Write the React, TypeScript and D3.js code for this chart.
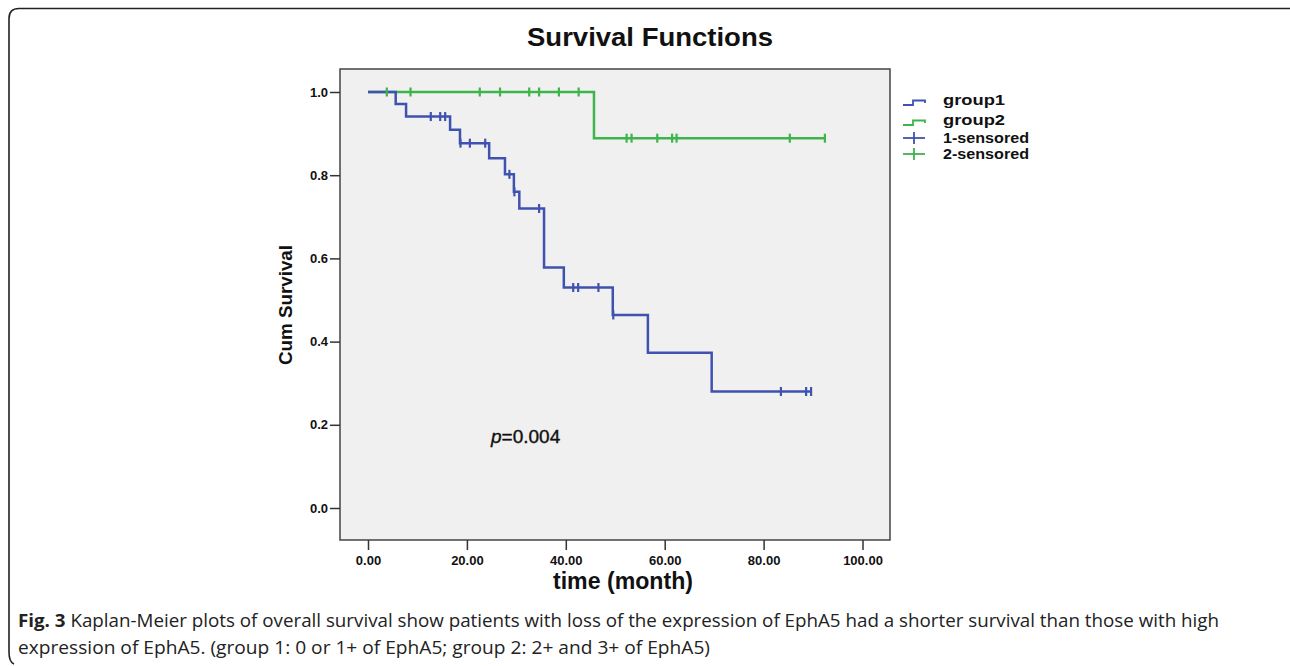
import React, { useEffect, useRef } from 'react';
import * as d3 from 'd3';

// group1: drop times (months) and survival after each drop
const g1Times = [5.6, 7.7, 16.6, 18.6, 24.5, 27.7, 29.5, 30.6, 35.6, 39.6, 49.5, 56.6, 69.5];
const g1Surv = [0.971, 0.941, 0.909, 0.877, 0.841, 0.802, 0.760, 0.720, 0.578, 0.530, 0.464, 0.373, 0.280];
const g1Censored = [12.7, 14.6, 15.6, 18.7, 20.6, 23.7, 28.6, 29.6, 34.6, 41.5, 42.5, 46.6, 49.6, 83.5, 88.6, 89.6];

// group2
const g2Times = [45.7];
const g2Surv = [0.889];
const g2Censored = [3.8, 8.6, 22.6, 26.7, 32.6, 34.6, 38.6, 42.6, 52.3, 53.3, 58.5, 61.5, 62.4, 85.3, 92.4];

const xTicks = [0, 20, 40, 60, 80, 100];
const yTicks = [0, 0.2, 0.4, 0.6, 0.8, 1.0];

const legendLabels = ['group1', 'group2', '1-sensored', '2-sensored'];

const BLUE = '#3f52b0';
const GREEN = '#3fb34c';
const FONT = 'Arial, "Liberation Sans", sans-serif';

const W = 1290;
const H = 666;
const frame = { left: 340, right: 890, top: 69, bottom: 540 };

const survAt = (times: number[], surv: number[], t: number) => {
  let s = 1;
  times.forEach((tt, i) => {
    if (t >= tt) s = surv[i];
  });
  return s;
};

const App = () => {
  const xAxisRef = useRef<SVGGElement>(null);
  const yAxisRef = useRef<SVGGElement>(null);

  const x = d3.scaleLinear().domain([0, 100]).range([368, 862.5]);
  const y = d3.scaleLinear().domain([0, 1]).range([508, 92]);

  useEffect(() => {
    const xa = d3.select(xAxisRef.current!);
    xa.call(
      d3.axisBottom(x).tickValues(xTicks).tickFormat(d3.format('.2f') as any).tickSize(10).tickSizeOuter(0).tickPadding(6)
    );
    const ya = d3.select(yAxisRef.current!);
    ya.call(
      d3.axisLeft(y).tickValues(yTicks).tickFormat(d3.format('.1f') as any).tickSize(10).tickSizeOuter(0).tickPadding(2)
    );
    [xa, ya].forEach((a) => {
      a.select('.domain').remove();
      a.selectAll('line').attr('stroke', '#333').attr('stroke-width', 1.5);
      a.selectAll('text')
        .attr('fill', '#111')
        .style('font-family', FONT)
        .style('font-weight', 'bold')
        .style('font-size', '13px');
    });
  }, []);

  const stepLine = d3
    .line<[number, number]>()
    .x((d) => x(d[0]))
    .y((d) => y(d[1]))
    .curve(d3.curveStepAfter);

  const buildPts = (times: number[], surv: number[], end: number): [number, number][] => {
    const pts: [number, number][] = [[0, 1]];
    times.forEach((t, i) => pts.push([t, surv[i]]));
    pts.push([end, surv[surv.length - 1]]);
    return pts;
  };

  const g1Pts = buildPts(g1Times, g1Surv, d3.max(g1Censored)!);
  const g2Pts = buildPts(g2Times, g2Surv, d3.max(g2Censored)!);

  const censorMarks = (ts: number[], times: number[], surv: number[], color: string) =>
    ts.map((t, i) => {
      const cx = x(t);
      const cy = y(survAt(times, surv, t));
      return <line key={i} x1={cx} x2={cx} y1={cy - 4.5} y2={cy + 4.5} stroke={color} strokeWidth={2.2} />;
    });

  const legendColors = [BLUE, GREEN, BLUE, GREEN];
  const legendY = [97, 117, 135, 151];
  const legendLen = [62, 62, 86, 86];

  return (
    <svg width={W} height={H} style={{ position: 'absolute', left: 0, top: 0, background: '#fff' }}>
      {/* outer figure box */}
      <path d="M 1292 8.5 H 19 Q 9 8.5 9 18.5 V 652 Q 9 662 14 664" fill="none" stroke="#222" strokeWidth={1.6} />

      <text x={650} y={46} textAnchor="middle" fontFamily={FONT} fontWeight="bold" fontSize={26} textLength={246} lengthAdjust="spacingAndGlyphs" fill="#111">
        Survival Functions
      </text>

      <rect x={frame.left} y={frame.top} width={frame.right - frame.left} height={frame.bottom - frame.top} fill="#f0f0f0" stroke="#444" strokeWidth={1.5} />

      <g ref={xAxisRef} transform={`translate(0,${frame.bottom})`} />
      <g ref={yAxisRef} transform={`translate(${frame.left},0)`} />

      <path d={stepLine(g2Pts)!} fill="none" stroke={GREEN} strokeWidth={2.5} />
      <path d={stepLine(g1Pts)!} fill="none" stroke={BLUE} strokeWidth={2.5} />
      {censorMarks(g2Censored, g2Times, g2Surv, GREEN)}
      {censorMarks(g1Censored, g1Times, g1Surv, BLUE)}

      <text x={491} y={443} fontFamily={FONT} fontSize={19} fill="#111" stroke="#111" strokeWidth={0.4}>
        <tspan fontStyle="italic">p</tspan>=0.004
      </text>

      <text x={623} y={589} textAnchor="middle" fontFamily={FONT} fontWeight="bold" fontSize={23} textLength={140} lengthAdjust="spacingAndGlyphs" fill="#111">
        time (month)
      </text>
      <text transform="translate(292,305) rotate(-90)" textAnchor="middle" fontFamily={FONT} fontWeight="bold" fontSize={19} textLength={120} lengthAdjust="spacingAndGlyphs" fill="#111">
        Cum Survival
      </text>

      {/* legend */}
      {legendLabels.map((lab, i) => {
        const ly = legendY[i];
        const c = legendColors[i];
        return (
          <g key={lab}>
            {i < 2 ? (
              <path d={`M 903 ${ly + 8} H 913 V ${ly + 3.5} H 925 V ${ly + 6}`} fill="none" stroke={c} strokeWidth={1.8} />
            ) : (
              <g>
                <line x1={903} x2={925} y1={ly + 3} y2={ly + 3} stroke={c} strokeWidth={1.8} />
                <line x1={914} x2={914} y1={ly - 3} y2={ly + 9} stroke={c} strokeWidth={1.8} />
              </g>
            )}
            <text x={943} y={ly + 8} fontFamily={FONT} fontWeight="bold" fontSize={15.5} textLength={legendLen[i]} lengthAdjust="spacingAndGlyphs" fill="#111">
              {lab}
            </text>
          </g>
        );
      })}

      {/* caption */}
      <text x={18} y={627} fontFamily={'"Open Sans", sans-serif'} fontSize={17.5} fill="#222" textLength={1201} lengthAdjust="spacingAndGlyphs">
        <tspan fontWeight="bold">Fig. 3</tspan> Kaplan-Meier plots of overall survival show patients with loss of the expression of EphA5 had a shorter survival than those with high
      </text>
      <text x={18} y={654} fontFamily={'"Open Sans", sans-serif'} fontSize={17.5} fill="#222" textLength={692} lengthAdjust="spacingAndGlyphs">
        expression of EphA5. (group 1: 0 or 1+ of EphA5; group 2: 2+ and 3+ of EphA5)
      </text>
    </svg>
  );
};

export default App;
